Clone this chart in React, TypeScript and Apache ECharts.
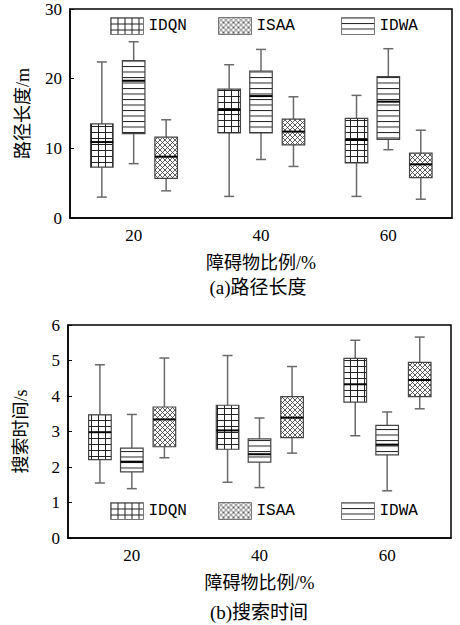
import React, { useEffect, useRef } from "react";
import * as echarts from "echarts";

// ---- data ----
const categories = ["20", "40", "60"];
const seriesNames = ["IDQN", "IDWA", "ISAA"]; // order of boxes inside a category
const legendOrder = ["IDQN", "ISAA", "IDWA"];

// [min, q1, median, q3, max] per category
const pathIDQN = [[3.0, 7.3, 10.9, 13.5, 22.4], [3.1, 12.2, 15.5, 18.5, 22.0], [3.1, 7.9, 11.2, 14.3, 17.6]];
const pathIDWA = [[7.8, 12.1, 19.7, 22.6, 25.3], [8.4, 12.2, 17.5, 21.1, 24.2], [9.8, 11.3, 16.7, 20.3, 24.3]];
const pathISAA = [[3.9, 5.7, 8.8, 11.6, 14.1], [7.4, 10.5, 12.4, 14.2, 17.4], [2.7, 5.8, 7.7, 9.3, 12.6]];

const timeIDQN = [[1.55, 2.21, 2.98, 3.47, 4.88], [1.57, 2.5, 3.03, 3.74, 5.14], [2.88, 3.83, 4.33, 5.06, 5.57]];
const timeIDWA = [[1.39, 1.86, 2.15, 2.53, 3.48], [1.42, 2.14, 2.36, 2.79, 3.38], [1.33, 2.34, 2.63, 3.17, 3.55]];
const timeISAA = [[2.26, 2.57, 3.34, 3.69, 5.07], [2.39, 2.83, 3.39, 3.98, 4.83], [3.64, 3.98, 4.45, 4.95, 5.66]];

const pathTicks = { min: 0, max: 30, interval: 10 };
const timeTicks = { min: 0, max: 6, interval: 1 };

// ---- styles ----
const SERIF = '"Liberation Serif", "Noto Sans CJK SC", serif';
const MONO = '"Liberation Mono", "DejaVu Sans Mono", monospace';
const OFFSETS = [-0.25, 0, 0.255];
const BOX_W = 0.177;
const CAP_W = 10;

const svgUrl = (s: string) => "data:image/svg+xml;charset=utf-8," + encodeURIComponent(s);
const PATTERNS: Record<string, { url: string; w: number; h: number }> = {
  IDQN: {
    url: svgUrl("<svg xmlns='http://www.w3.org/2000/svg' width='7' height='6'><path d='M0.5 0V6M0 0.5H7' stroke='#222' stroke-width='1' fill='none'/></svg>"),
    w: 7,
    h: 6,
  },
  IDWA: {
    url: svgUrl("<svg xmlns='http://www.w3.org/2000/svg' width='4' height='5.5'><path d='M0 0.5H4' stroke='#222' stroke-width='1' fill='none'/></svg>"),
    w: 4,
    h: 5.5,
  },
  ISAA: {
    url: svgUrl("<svg xmlns='http://www.w3.org/2000/svg' width='5' height='5'><path d='M0 0L5 5M5 0L0 5M-1 1L1 -1M4 6L6 4M-1 4L1 6M4 -1L6 1' stroke='#333' stroke-width='0.8' fill='none'/></svg>"),
    w: 5,
    h: 5,
  },
};
const pattern = (name: string, x = 0, y = 0) => ({
  image: PATTERNS[name].url,
  repeat: "repeat",
  imageWidth: PATTERNS[name].w,
  imageHeight: PATTERNS[name].h,
  x,
  y,
});

function makeSeries(name: string, values: number[][], k: number, axisIndex: number) {
  return {
    type: "custom",
    name,
    xAxisIndex: axisIndex,
    yAxisIndex: axisIndex,
    itemStyle: { color: pattern(name) },
    encode: { x: 0, y: [1, 2, 3, 4, 5] },
    data: values.map((v, i) => [i, ...v]),
    renderItem: (params: any, api: any) => {
      const idx = api.value(0);
      const band = api.size([1, 0])[0];
      const base = api.coord([idx, api.value(1)]);
      const cx = base[0] + OFFSETS[k] * band;
      const w = BOX_W * band;
      const yMin = base[1];
      const yQ1 = api.coord([idx, api.value(2)])[1];
      const yMed = api.coord([idx, api.value(3)])[1];
      const yQ3 = api.coord([idx, api.value(4)])[1];
      const yMax = api.coord([idx, api.value(5)])[1];
      const ws = { stroke: "#6a6a6a", lineWidth: 1.5 };
      return {
        type: "group",
        children: [
          { type: "line", shape: { x1: cx, y1: yMax, x2: cx, y2: yQ3 }, style: ws },
          { type: "line", shape: { x1: cx, y1: yQ1, x2: cx, y2: yMin }, style: ws },
          { type: "line", shape: { x1: cx - CAP_W / 2, y1: yMax, x2: cx + CAP_W / 2, y2: yMax }, style: ws },
          { type: "line", shape: { x1: cx - CAP_W / 2, y1: yMin, x2: cx + CAP_W / 2, y2: yMin }, style: ws },
          {
            type: "rect",
            shape: { x: cx - w / 2, y: yQ3, width: w, height: yQ1 - yQ3 },
            style: { fill: pattern(name, cx - w / 2, yQ3), stroke: "#444", lineWidth: 1.2 },
          },
          { type: "line", shape: { x1: cx - w / 2, y1: yMed, x2: cx + w / 2, y2: yMed }, style: { stroke: "#000", lineWidth: 2 } },
        ],
      };
    },
  };
}

function makeLegends(top: number) {
  const lefts = [110, 218, 341];
  return legendOrder.map((name, i) => ({
    left: lefts[i],
    top,
    padding: 0,
    itemWidth: 33,
    itemHeight: 17,
    itemGap: 6,
    selectedMode: false,
    data: [
      {
        name,
        icon: "rect",
        itemStyle: { color: pattern(name), borderColor: "#777", borderWidth: 1 },
      },
    ],
    textStyle: { fontFamily: MONO, fontSize: 16, color: "#000" },
  }));
}

function axisPair(gridIndex: number, ticks: { min: number; max: number; interval: number }, yName: string) {
  const x = {
    type: "category",
    gridIndex,
    data: categories,
    boundaryGap: true,
    name: "障碍物比例/%",
    nameLocation: "middle",
    nameGap: 36,
    nameTextStyle: { fontFamily: SERIF, fontSize: 18, color: "#000" },
    axisLine: { lineStyle: { color: "#000", width: 1.5 } },
    axisTick: { inside: true, length: 5, lineStyle: { color: "#000" } },
    axisLabel: { fontFamily: SERIF, fontSize: 17, color: "#000", margin: 9 },
    splitLine: { show: false },
  };
  const y = {
    type: "value",
    gridIndex,
    min: ticks.min,
    max: ticks.max,
    interval: ticks.interval,
    name: yName,
    nameLocation: "middle",
    nameGap: 38,
    nameTextStyle: { fontFamily: SERIF, fontSize: 18, color: "#000" },
    axisLine: { show: true, lineStyle: { color: "#000", width: 1.5 } },
    axisTick: { show: true, inside: true, length: 4, lineStyle: { color: "#000" } },
    axisLabel: { fontFamily: SERIF, fontSize: 17, color: "#000", margin: 8 },
    splitLine: { show: false },
  };
  return { x, y };
}

export default function App() {
  const ref = useRef<HTMLDivElement>(null);
  useEffect(() => {
    document.body.style.margin = "0";
    if (!ref.current) return;
    const chart = echarts.init(ref.current, undefined, { renderer: "svg" });
    const a = axisPair(0, pathTicks, "路径长度/m");
    const b = axisPair(1, timeTicks, "搜索时间/s");
    const pathData: Record<string, number[][]> = { IDQN: pathIDQN, IDWA: pathIDWA, ISAA: pathISAA };
    const timeData: Record<string, number[][]> = { IDQN: timeIDQN, IDWA: timeIDWA, ISAA: timeISAA };
    chart.setOption({
      animation: false,
      backgroundColor: "#fff",
      grid: [
        { left: 70, top: 9, width: 382, height: 209, show: true, borderColor: "#000", borderWidth: 1.5, backgroundColor: "transparent" },
        { left: 68, top: 325, width: 383, height: 213, show: true, borderColor: "#000", borderWidth: 1.5, backgroundColor: "transparent" },
      ],
      xAxis: [a.x, b.x],
      yAxis: [a.y, b.y],
      legend: [...makeLegends(17), ...makeLegends(502)],
      series: [
        ...seriesNames.map((n, k) => makeSeries(n, pathData[n], k, 0)),
        ...seriesNames.map((n, k) => makeSeries(n, timeData[n], k, 1)),
      ],
      graphic: [
        {
          type: "text",
          x: 258,
          y: 287,
          style: { text: "(a)路径长度", fontFamily: SERIF, fontSize: 19, fill: "#000", textAlign: "center", textVerticalAlign: "middle" },
        },
        {
          type: "text",
          x: 259,
          y: 612,
          style: { text: "(b)搜索时间", fontFamily: SERIF, fontSize: 19, fill: "#000", textAlign: "center", textVerticalAlign: "middle" },
        },
      ],
    });
    return () => chart.dispose();
  }, []);
  return <div ref={ref} style={{ width: 460, height: 625 }} />;
}
